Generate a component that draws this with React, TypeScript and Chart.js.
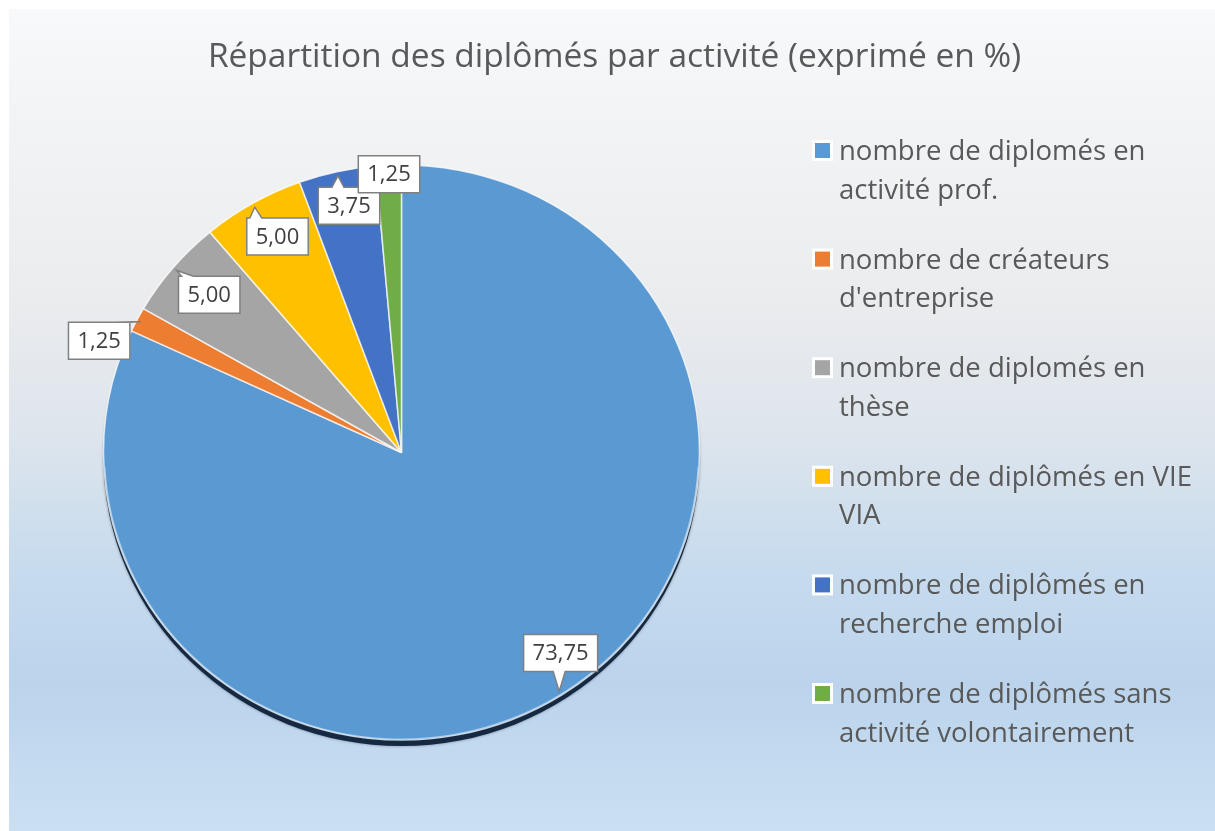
import React, { useEffect, useRef } from "react";
import { Chart, registerables } from "chart.js";

Chart.register(...registerables);

const titleText = "Répartition des diplômés par activité (exprimé en %)";
const categories = [
  "nombre de diplomés en activité prof.",
  "nombre de créateurs d'entreprise",
  "nombre de diplomés en thèse",
  "nombre de diplômés en VIE VIA",
  "nombre de diplômés en recherche emploi",
  "nombre de diplômés sans activité volontairement",
];
const values = [73.75, 1.25, 5.0, 5.0, 3.75, 1.25];
const colors = ["#5A99D2", "#ED7D31", "#A5A5A5", "#FFC000", "#4472C4", "#70AD47"];

// style: callout box offsets (px) from slice edge midpoint
const labelOffsets: number[][] = [
  [-1, -42],
  [-38, 21],
  [36, 27],
  [25, 33],
  [12, 34],
  [0.5, 9],
];

const FONT = '"Open Sans", sans-serif';
const SCALE_Y = 0.965;
const W = 1206;
const H = 822;

function fmt(v: number) {
  return v.toFixed(2).replace(".", ",");
}

function wrap(ctx: CanvasRenderingContext2D, text: string, maxW: number) {
  const words = text.split(" ");
  const lines: string[] = [];
  let cur = "";
  for (const w of words) {
    const t = cur ? cur + " " + w : w;
    if (ctx.measureText(t).width > maxW && cur) {
      lines.push(cur);
      cur = w;
    } else cur = t;
  }
  if (cur) lines.push(cur);
  return lines;
}

function calloutPath(
  ctx: CanvasRenderingContext2D,
  x0: number, y0: number, x1: number, y1: number,
  tx: number, ty: number
) {
  const half = 6;
  const clamp = (v: number, a: number, b: number) => Math.max(a, Math.min(b, v));
  ctx.beginPath();
  ctx.moveTo(x0, y0);
  if (ty < y0) {
    const c = clamp(tx, x0 + 9, x1 - 9);
    ctx.lineTo(c - half, y0);
    ctx.lineTo(tx, ty);
    ctx.lineTo(c + half, y0);
  }
  ctx.lineTo(x1, y0);
  if (tx > x1 && ty >= y0 && ty <= y1) {
    const c = clamp(ty, y0 + 9, y1 - 9);
    ctx.lineTo(x1, c - half);
    ctx.lineTo(tx, ty);
    ctx.lineTo(x1, c + half);
  }
  ctx.lineTo(x1, y1);
  if (ty > y1) {
    const c = clamp(tx, x0 + 9, x1 - 9);
    ctx.lineTo(c + half, y1);
    ctx.lineTo(tx, ty);
    ctx.lineTo(c - half, y1);
  }
  ctx.lineTo(x0, y1);
  if (tx < x0 && ty >= y0 && ty <= y1) {
    const c = clamp(ty, y0 + 9, y1 - 9);
    ctx.lineTo(x0, c + half);
    ctx.lineTo(tx, ty);
    ctx.lineTo(x0, c - half);
  }
  ctx.closePath();
}

const decoPlugin = {
  id: "deco",
  beforeDraw(chart: any) {
    const { ctx, width, height } = chart;
    ctx.save();
    const g = ctx.createLinearGradient(0, 0, 0, height);
    g.addColorStop(0, "#F7F9FB");
    g.addColorStop(0.12, "#F2F4F6");
    g.addColorStop(0.35, "#EBECEE");
    g.addColorStop(0.53, "#DCE4EC");
    g.addColorStop(0.66, "#C9DCEE");
    g.addColorStop(0.82, "#BBD4EC");
    g.addColorStop(1, "#CADFF2");
    ctx.fillStyle = g;
    ctx.fillRect(0, 0, width, height);

    // title
    ctx.fillStyle = "#595959";
    ctx.font = `33.5px ${FONT}`;
    ctx.textAlign = "center";
    ctx.textBaseline = "alphabetic";
    ctx.fillText(titleText, 605.5, 58);

    // legend
    ctx.font = `27.5px ${FONT}`;
    ctx.textAlign = "left";
    categories.forEach((cat, i) => {
      const cy = 141.5 + i * 108.6;
      ctx.fillStyle = "#FFFFFF";
      ctx.fillRect(803, cy - 10.5, 21, 21);
      ctx.fillStyle = colors[i];
      ctx.fillRect(806, cy - 7.5, 15, 15);
      ctx.fillStyle = "#595959";
      const lines = wrap(ctx, cat, 365);
      lines.forEach((ln, j) => {
        ctx.fillText(ln, 830, cy + 9.5 + j * 38.5);
      });
    });
    ctx.restore();
  },
  beforeDatasetsDraw(chart: any) {
    const { ctx } = chart;
    const arc = chart.getDatasetMeta(0).data[0];
    const { x, y, outerRadius } = arc.getProps(["x", "y", "outerRadius"], true);
    // drop shadow under pie
    ctx.save();
    ctx.translate(x, y + 6);
    ctx.scale(1, SCALE_Y);
    ctx.beginPath();
    ctx.arc(0, 0, outerRadius, 0, Math.PI * 2);
    ctx.fillStyle = "#152a42";
    ctx.shadowColor = "rgba(0,0,0,0.4)";
    ctx.shadowBlur = 3;
    ctx.fill();
    ctx.restore();
    ctx.save();
    ctx.translate(x, y);
    ctx.scale(1, SCALE_Y);
    ctx.translate(-x, -y);
  },
  afterDatasetsDraw(chart: any) {
    const { ctx } = chart;
    ctx.restore();
    const meta = chart.getDatasetMeta(0);
    // light rim
    const a0 = meta.data[0].getProps(["x", "y", "outerRadius"], true);
    ctx.save();
    ctx.translate(a0.x, a0.y);
    ctx.scale(1, SCALE_Y);
    ctx.beginPath();
    ctx.arc(0, 0, a0.outerRadius - 1, 0.05, Math.PI - 0.05);
    ctx.strokeStyle = "rgba(200,225,245,0.7)";
    ctx.lineWidth = 1.2;
    ctx.stroke();
    ctx.restore();

    ctx.save();
    ctx.font = `22px ${FONT}`;
    ctx.textAlign = "center";
    ctx.textBaseline = "middle";
    meta.data.forEach((el: any, i: number) => {
      const p = el.getProps(["x", "y", "startAngle", "endAngle", "outerRadius"], true);
      const mid = (p.startAngle + p.endAngle) / 2;
      const ex = p.x + Math.cos(mid) * p.outerRadius;
      const ey = p.y + Math.sin(mid) * p.outerRadius * SCALE_Y;
      const tx = p.x + Math.cos(mid) * p.outerRadius * 0.985;
      const ty = p.y + Math.sin(mid) * p.outerRadius * 0.985 * SCALE_Y;
      const text = fmt(values[i]);
      const tw = ctx.measureText(text).width;
      const bw = tw + 18;
      const bh = 37;
      const cx = ex + labelOffsets[i][0];
      const cy = ey + labelOffsets[i][1];
      const x0 = cx - bw / 2, x1 = cx + bw / 2, y0 = cy - bh / 2, y1 = cy + bh / 2;
      calloutPath(ctx, x0, y0, x1, y1, tx, ty);
      ctx.fillStyle = "#FFFFFF";
      ctx.fill();
      ctx.strokeStyle = "#808080";
      ctx.lineWidth = 1.5;
      ctx.stroke();
      ctx.fillStyle = "#404040";
      ctx.fillText(text, cx, cy + 1);
    });
    ctx.restore();
  },
};

export default function App() {
  const ref = useRef<HTMLCanvasElement | null>(null);
  useEffect(() => {
    if (!ref.current) return;
    const chart = new Chart(ref.current, {
      type: "pie",
      data: {
        labels: categories,
        datasets: [
          {
            data: values,
            backgroundColor: colors,
            borderColor: "rgba(255,255,255,0.75)",
            borderWidth: 1.5,
          },
        ],
      },
      options: {
        responsive: false,
        animation: false,
        events: [],
        radius: 298,
        layout: { padding: { left: 0, right: 421, top: 100, bottom: 35 } },
        plugins: {
          legend: { display: false },
          title: { display: false },
          tooltip: { enabled: false },
        },
      } as any,
      plugins: [decoPlugin],
    });
    return () => chart.destroy();
  }, []);
  return (
    <div style={{ position: "fixed", left: 9, top: 9, width: W, height: H }}>
      <canvas ref={ref} width={W} height={H} style={{ display: "block" }} />
    </div>
  );
}
